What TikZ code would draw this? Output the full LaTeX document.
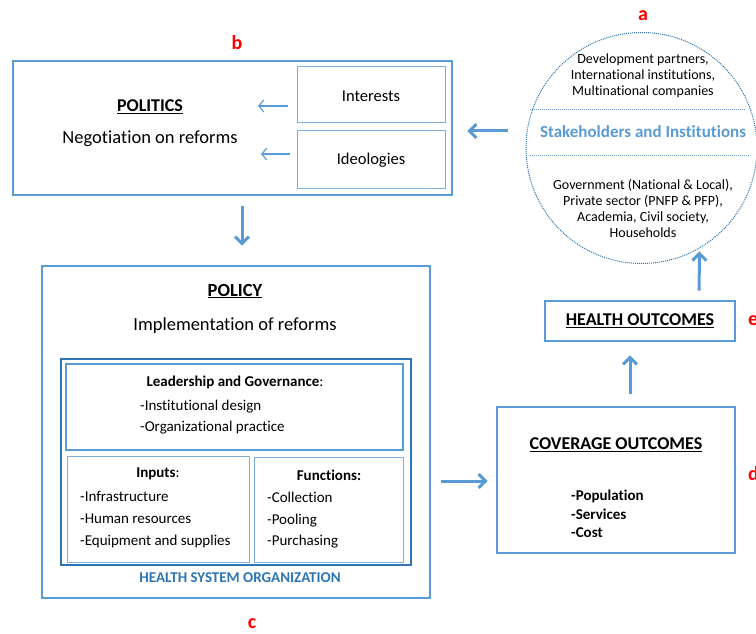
\documentclass[tikz,border=0pt]{standalone}
\usepackage{fontspec}
\setmainfont[Ligatures=NoCommon]{Carlito}
\usetikzlibrary{arrows.meta}
\definecolor{mblue}{HTML}{5B9BD5}
\definecolor{lblue}{HTML}{9DC3E6}
\definecolor{dblue}{HTML}{2E75B6}
\definecolor{redlab}{HTML}{FF0000}
\newcommand{\fsz}[2]{\fontsize{#1}{#2}\selectfont}
\tikzset{
  thickbox/.style={draw=mblue, line width=2.6pt, inner sep=0pt},
  midbox/.style={draw=mblue, line width=1.8pt, inner sep=0pt},
  thinbox/.style={draw=mblue!80, line width=1pt, inner sep=0pt},
  hsobox/.style={draw=dblue, line width=1.3pt, inner sep=0pt},
  bigarrow/.style={draw=mblue, line width=3pt, -{Straight Barb[length=7pt,width=14pt,line width=3pt]}},
  smallarrow/.style={draw=mblue, line width=1.2pt, -{Straight Barb[length=5pt,width=12pt,line width=1.2pt]}},
  lab/.style={text=redlab, font=\bfseries\fsz{20}{20}, inner sep=0pt},
  txt/.style={inner sep=0pt, text=black}
}
\begin{document}
\begin{tikzpicture}[x=1pt,y=-1pt]
\useasboundingbox[fill=white] (0,0) rectangle (756,634);

% labels
\node[lab] (la) at (643,16) {a};
\node[lab] (lb) at (237,43) {b};
\node[lab] (lc) at (252,624) {c};
\node[lab,anchor=west] (ld) at (748,474) {d};
\node[lab,anchor=west] (le) at (748,321) {e};

% politics
\node[thickbox, minimum width=439pt, minimum height=134pt] (politics) at (232.5,128) {};
\node[thinbox, minimum width=148pt, minimum height=56pt] (interests) at (371,95) {};
\node[thinbox, minimum width=148pt, minimum height=57pt] (ideologies) at (371,159.5) {};
\node[txt, font=\fsz{16.5}{16.5}] (tint) at (371,96) {Interests};
\node[txt, font=\fsz{16.5}{16.5}] (tide) at (371,160) {Ideologies};
\node[txt, font=\bfseries\fsz{18}{18}] (tpol) at (150,107) {\underline{POLITICS}};
\node[txt, font=\fsz{18.5}{18.5}] (tneg) at (150,139) {Negotiation on reforms};
\coordinate (pa1) at (258,106);
\coordinate (pa2) at (261,154);
\draw[smallarrow, shorten <=9pt] (interests.west |- pa1) -- (pa1);
\draw[smallarrow, shorten <=7pt] (ideologies.west |- pa2) -- (pa2);

% policy
\node[thickbox, minimum width=388pt, minimum height=332pt] (policy) at (236,432) {};
\node[txt, font=\bfseries\fsz{18.5}{18.5}] (tpolicy) at (235,291) {\underline{POLICY}};
\node[txt, font=\fsz{18.5}{18.5}] (timp) at (235,326) {Implementation of reforms};
\node[hsobox, minimum width=350pt, minimum height=206pt] (hso) at (236,462) {};
\node[midbox, minimum width=337pt, minimum height=86pt] (lead) at (234.5,407) {};
\node[thinbox, minimum width=182pt, minimum height=106pt] (inputs) at (158,509) {};
\node[thinbox, minimum width=149pt, minimum height=105pt] (functions) at (328.5,509.5) {};
\node[txt, font=\fsz{15}{15}] (tlead) at (235,382) {\textbf{Leadership and Governance}:};
\node[txt, font=\fsz{15}{21}, align=left, anchor=north west] (tleadl) at (140,400) {-Institutional design\\-Organizational practice};
\node[txt, font=\fsz{15}{15}] (tin) at (158,474) {\textbf{Inputs}:};
\node[txt, font=\fsz{15}{22}, align=left, anchor=north west] (tinl) at (80,491) {-Infrastructure\\-Human resources\\-Equipment and supplies};
\node[txt, font=\bfseries\fsz{15}{15}] (tfun) at (329,475) {Functions:};
\node[txt, font=\fsz{15}{21.5}, align=left, anchor=north west] (tfunl) at (267,492) {-Collection\\-Pooling\\-Purchasing};
\node[txt, font=\bfseries\fsz{15}{15}, text=dblue] (thso) at (240,578) {HEALTH SYSTEM ORGANIZATION};

% coverage and health
\node[thickbox, minimum width=238pt, minimum height=146pt] (coverage) at (616,480) {};
\node[txt, font=\bfseries\fsz{18}{18}] (tcov) at (616,445) {\underline{COVERAGE OUTCOMES}};
\node[txt, font=\bfseries\fsz{15}{18.5}, align=left, anchor=north west] (tcovl) at (571,490) {-Population\\-Services\\-Cost};
\node[thickbox, minimum width=190pt, minimum height=40pt] (health) at (640,321) {};
\node[txt, font=\bfseries\fsz{18}{18}] (thealth) at (640,321) {\underline{HEALTH OUTCOMES}};

% stakeholders circle
\node[draw=dblue, densely dotted, line width=1pt, circle, minimum size=231pt, inner sep=0pt] (circ) at (641.5,148) {};
\coordinate (d1a) at (530,110); \coordinate (d1b) at (746,110);
\coordinate (d2a) at (530,155); \coordinate (d2b) at (750,155);
\draw[dblue!70, densely dotted, line width=1pt] (d1a) -- (d1b);
\draw[dblue!70, densely dotted, line width=1pt] (d2a) -- (d2b);
\node[txt, font=\fsz{14}{16}, align=center] (ttop) at (643,76) {Development partners,\\International institutions,\\Multinational companies};
\node[txt, font=\bfseries\fsz{17}{17}, text=mblue] (tstake) at (643,132) {Stakeholders and Institutions};
\node[txt, font=\fsz{14}{16}, align=center] (tbot) at (643,208) {Government (National \& Local),\\Private sector (PNFP \& PFP),\\Academia, Civil society,\\Households};

% main arrows
\coordinate (ax) at (242,0);
\draw[bigarrow, shorten <=10pt, shorten >=19pt] (politics.south -| ax) -- (policy.north -| ax);
\coordinate (ay) at (0,131);
\draw[bigarrow, shorten <=18pt, shorten >=14pt] (circ.west |- ay) -- (politics.east |- ay);
\coordinate (by) at (0,481);
\draw[bigarrow, shorten <=10pt, shorten >=8pt] (policy.east |- by) -- (coverage.west |- by);
\coordinate (cx) at (630,0);
\draw[bigarrow, shorten <=12pt, shorten >=13pt] (coverage.north -| cx) -- (health.south -| cx);
\coordinate (hx) at (699,0);
\draw[bigarrow, shorten <=9pt, shorten >=3pt] (health.north -| hx) -- (circ.-60);
\end{tikzpicture}
\end{document}
